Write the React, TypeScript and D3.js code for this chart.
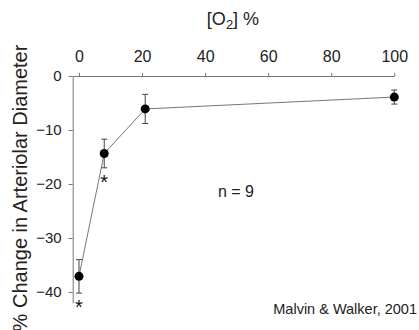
import React, { useEffect, useRef } from "react";
import * as d3 from "d3";

// [O2] % levels and the mean % change in arteriolar diameter (with SE)
const o2Levels = [0, 8, 21, 100];
const diameterChange = [-37.1, -14.35, -6.1, -3.9];
const stdError = [3.1, 2.65, 2.7, 1.3];
const significant = [true, true, false, false];

const xTicks = [0, 20, 40, 60, 80, 100];
const yTicks = [0, -10, -20, -30, -40];

const FONT = "'Liberation Sans', Arial, sans-serif";

export default function App() {
  const svgRef = useRef<SVGSVGElement | null>(null);

  useEffect(() => {
    const width = 419;
    const height = 330;

    const svg = d3.select(svgRef.current);
    svg.selectAll("*").remove();
    svg
      .attr("width", width)
      .attr("height", height)
      .attr("viewBox", `0 0 ${width} ${height}`)
      .style("font-family", FONT);

    svg.append("rect").attr("width", width).attr("height", height).attr("fill", "#fff");

    const x = d3.scaleLinear().domain([-2, 100]).range([72.7, 394.3]);
    const y = d3.scaleLinear().domain([0, -42]).range([76, 302.8]);

    const data = o2Levels.map((o2, i) => ({
      o2,
      value: diameterChange[i],
      se: stdError[i],
      sig: significant[i],
    }));

    // top x axis
    const xAxis = svg
      .append("g")
      .attr("transform", `translate(0,${y(0)})`)
      .call(
        d3
          .axisTop(x)
          .tickValues(xTicks)
          .tickSize(3)
          .tickSizeOuter(0)
          .tickPadding(11)
      );
    xAxis.select(".domain").attr("stroke", "#777");
    xAxis.selectAll(".tick line").attr("stroke", "#777");
    xAxis
      .selectAll(".tick text")
      .attr("fill", "#222")
      .style("font-size", "16px")
      .style("font-family", FONT);

    // left y axis
    const yAxis = svg
      .append("g")
      .attr("transform", `translate(${x(-2)},0)`)
      .call(
        d3
          .axisLeft(y)
          .tickValues(yTicks)
          .tickSize(4)
          .tickSizeOuter(0)
          .tickPadding(7)
      );
    yAxis.select(".domain").attr("stroke", "#777");
    yAxis.selectAll(".tick line").attr("stroke", "#777");
    yAxis
      .selectAll(".tick text")
      .attr("fill", "#222")
      .style("font-size", "15px")
      .style("font-family", FONT);

    // x axis title with subscript
    const title = svg
      .append("text")
      .attr("x", 233)
      .attr("y", 25)
      .attr("text-anchor", "middle")
      .attr("fill", "#222")
      .style("font-size", "18px");
    title.append("tspan").text("[O");
    title.append("tspan").attr("dy", 4).style("font-size", "13px").text("2");
    title.append("tspan").attr("dy", -4).text("] %");

    // y axis title
    svg
      .append("text")
      .attr("transform", `translate(27,188) rotate(-90)`)
      .attr("text-anchor", "middle")
      .attr("fill", "#222")
      .style("font-size", "20px")
      .text("% Change in Arteriolar Diameter");

    // connecting line
    const line = d3
      .line<{ o2: number; value: number }>()
      .x((d) => x(d.o2))
      .y((d) => y(d.value));

    svg
      .append("path")
      .datum(data)
      .attr("fill", "none")
      .attr("stroke", "#777")
      .attr("stroke-width", 1)
      .attr("d", line);

    // error bars
    const bars = svg.append("g").attr("stroke", "#444").attr("stroke-width", 1);
    data.forEach((d) => {
      const cx = x(d.o2);
      const top = y(d.value + d.se);
      const bot = y(d.value - d.se);
      bars.append("line").attr("x1", cx).attr("x2", cx).attr("y1", top).attr("y2", bot);
      bars.append("line").attr("x1", cx - 3).attr("x2", cx + 3).attr("y1", top).attr("y2", top);
      bars.append("line").attr("x1", cx - 3).attr("x2", cx + 3).attr("y1", bot).attr("y2", bot);
    });

    // points
    svg
      .append("g")
      .selectAll("circle")
      .data(data)
      .enter()
      .append("circle")
      .attr("cx", (d) => x(d.o2))
      .attr("cy", (d) => y(d.value))
      .attr("r", 4.5)
      .attr("fill", "#000");

    // significance asterisks
    svg
      .append("g")
      .selectAll("text")
      .data(data.filter((d) => d.sig))
      .enter()
      .append("text")
      .attr("x", (d) => x(d.o2))
      .attr("y", (d) => y(d.value - d.se) + 21)
      .attr("text-anchor", "middle")
      .attr("fill", "#111")
      .style("font-size", "20px")
      .text("*");

    svg
      .append("text")
      .attr("x", 236)
      .attr("y", 197)
      .attr("text-anchor", "middle")
      .attr("fill", "#222")
      .style("font-size", "16px")
      .text("n = 9");

    svg
      .append("text")
      .attr("x", 417)
      .attr("y", 314)
      .attr("text-anchor", "end")
      .attr("fill", "#222")
      .style("font-size", "14.5px")
      .text("Malvin & Walker, 2001");
  }, []);

  return (
    <div style={{ position: "absolute", left: 0, top: 0 }}>
      <svg ref={svgRef} style={{ display: "block" }} />
    </div>
  );
}
